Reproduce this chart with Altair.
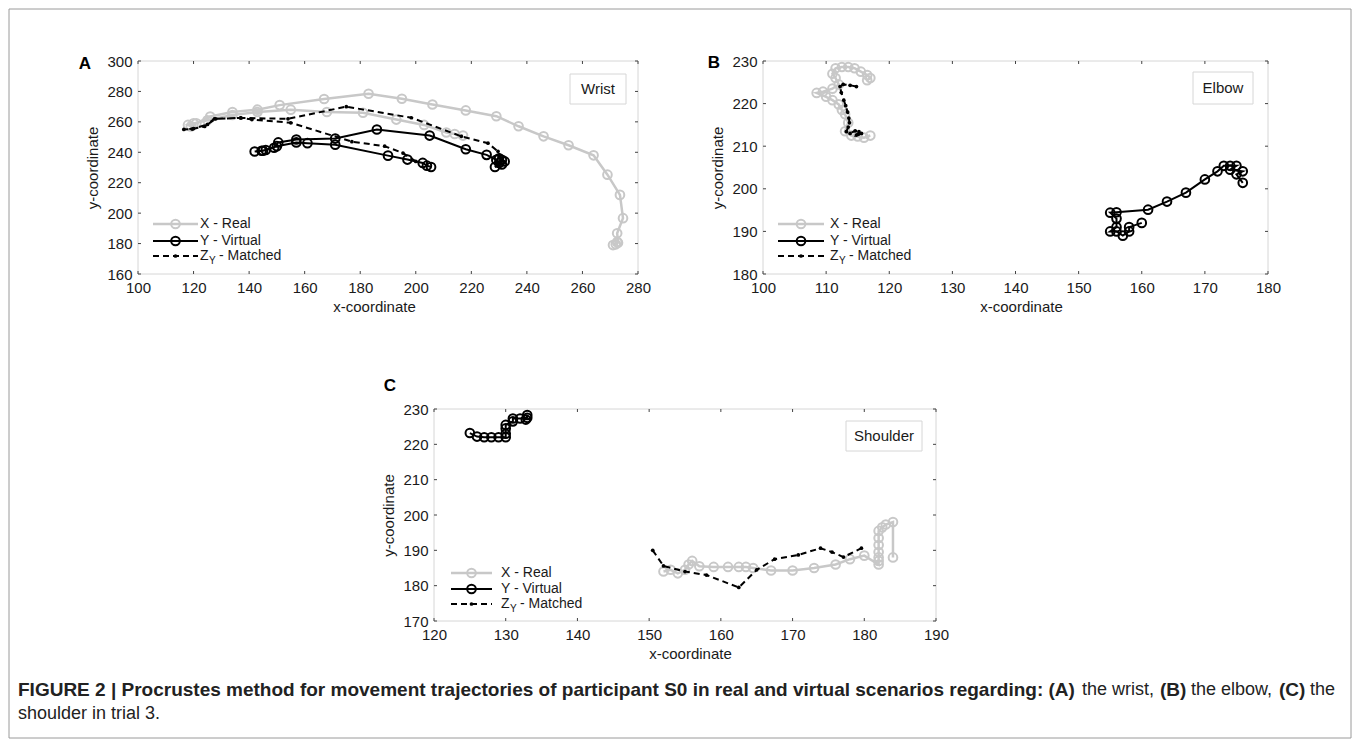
import altair as alt
import pandas as pd

# ---------------- data ----------------
# Panel A - wrist
A_real_x = [217, 214, 211, 203, 193, 181, 168, 155, 143, 134, 125, 120, 118,
            119, 121, 126, 134, 143, 151, 167, 183, 195, 206, 218, 229, 237, 246, 255, 264, 269, 273.5, 274.6, 272.5, 272.8, 272, 271, 272.5]
A_real_y = [251, 252, 253, 258, 261.5, 266, 266.5, 268, 266.5, 264.5, 261, 259, 258,
            257, 259, 263.5, 266.5, 268, 271, 275, 278.5, 275.2, 271.4, 267.5, 263.7, 257.1, 250.5, 244.6, 238, 225.3, 212, 196.7, 186.8, 180.6, 179.5, 179, 181]
A_virt_x = [205.5, 204, 202.5, 197, 190, 171, 161, 157, 150, 145, 142,
            144.5, 146, 149, 150.5, 157, 171, 186, 205, 218, 225.5, 229, 230, 228.5, 231, 232, 231, 230]
A_virt_y = [230.3, 231.2, 233, 235.2, 237.8, 245, 246, 246.5, 244, 241, 240.5,
            241, 241.5, 243, 246.5, 248.4, 249, 255, 251, 242, 238.3, 235, 233, 230.3, 232, 234, 235, 236]
A_match_x = [200, 195.4, 188.8, 177, 155, 141, 137, 128, 125, 120, 116.5,
             119.5, 124, 127.5, 137, 154, 175, 198.4, 216.4, 226, 229.6, 231, 230]
A_match_y = [234, 239.5, 244, 247, 259.4, 261.5, 262.6, 262, 258.3, 255.6, 255,
             255.3, 257, 262, 262.6, 262, 270, 262.7, 250.5, 246, 240.6, 236, 238]

# Panel B - elbow
B_real_x = [117, 116, 115, 114, 113, 113.5, 113, 112.5, 112, 111, 110, 108.5, 109.5, 111, 112,
            111.5, 111, 111.5, 112.5, 113.5, 114.5, 115.5, 116.5, 117, 116.5]
B_real_y = [212.5, 212, 212.3, 212.5, 213.5, 215.5, 217.5, 218.5, 219.8, 220.8, 221.6, 222.5, 222.8, 223.5, 224.5,
            226, 227, 228.3, 228.6, 228.6, 228.3, 227.5, 226.7, 226, 225.5]
B_virt_x = [160, 158, 158, 157, 156, 155, 156, 156, 155, 156, 161, 164, 167, 170, 172, 173, 174, 175, 174, 176, 175, 176]
B_virt_y = [192, 191, 190, 189, 190, 190, 191, 193, 194.4, 194.5, 195.1, 197, 199.1, 202.2, 204.1, 205.4, 205.4, 205.4, 204.5, 204.1, 203.4, 201.4]
B_match_x = [114.8, 113.8, 112.7, 112.2, 112.4, 112.8, 113.1, 113.4, 113.6, 113.7, 113.5, 113.2, 113.8, 114.6, 115.2, 114.8, 115.6, 115.1]
B_match_y = [224, 224.3, 224.5, 224, 222.6, 220.8, 219.5, 218, 216.6, 215.5, 214.5, 213.4, 213, 213.6, 213.4, 212.6, 213, 212.8]

# Panel C - shoulder
C_real_x = [152, 153, 154, 155, 155.5, 156, 157, 159, 161, 162.5, 163.5, 164.5, 167, 170, 173, 176, 178, 180,
            182, 182, 182, 182, 182, 182, 182, 182.5, 183, 184, 184]
C_real_y = [184, 184.5, 183.5, 184.5, 186, 187, 185.5, 185.3, 185.3, 185.3, 185.3, 185, 184.3, 184.3, 185, 186, 187.5, 188.5,
            186, 187, 188, 189.5, 191.5, 193.5, 195.5, 196.5, 197.3, 198, 188]
C_virt_x = [125, 126, 127, 128, 129, 130, 130, 130, 130, 131, 131, 132, 133, 133, 132.8]
C_virt_y = [223.2, 222.2, 222, 222, 222, 222, 223, 224.5, 225.5, 226.5, 227.3, 227.3, 227.5, 228.3, 227]
C_match_x = [150.5, 152, 155, 158, 162.5, 165, 167.5, 170.8, 173.9, 175.5, 177.1, 179.6]
C_match_y = [190, 185.6, 184, 183, 179.5, 184.5, 187.5, 188.7, 190.6, 189.5, 188.1, 190.6]

A_xticks = [100, 120, 140, 160, 180, 200, 220, 240, 260, 280]
A_yticks = [160, 180, 200, 220, 240, 260, 280, 300]
B_xticks = [100, 110, 120, 130, 140, 150, 160, 170, 180]
B_yticks = [180, 190, 200, 210, 220, 230]
C_xticks = [120, 130, 140, 150, 160, 170, 180, 190]
C_yticks = [170, 180, 190, 200, 210, 220, 230]

LEGEND_LABELS = ["X - Real", "Y - Virtual", "Z", "Y", "- Matched"]
CAPTION = [
    ("FIGURE 2 | Procrustes method for movement trajectories of participant S0 in real and virtual scenarios regarding: (A)", "bold"),
    ("the wrist,", "normal"),
    ("(B)", "bold"),
    ("the elbow,", "normal"),
    ("(C)", "bold"),
    ("the", "normal"),
]
CAPTION_2 = "shoulder in trial 3."

# ---------------- style ----------------
FONT = "Liberation Sans"
INK = "#1a1a1a"
GRAY = "#c8c8c8"
FRAME = "#d6d6d6"
TICK = "#444444"
dummy = pd.DataFrame({"d": [0]})


def sdf(xs, ys):
    return pd.DataFrame({"x": xs, "y": ys, "i": list(range(len(xs)))})


def panel(real, virt, match, xdom, ydom, xt, yt, w, h, name, box, letter, letter_xy, leg, title_x, x0=0):
    """x0: left edge of the plot area inside this cell (negative = drawn left of the cell)."""
    xs = alt.Scale(domain=xdom, nice=False, zero=False, range=[x0, x0 + w])
    ys = alt.Scale(domain=ydom, nice=False, zero=False)
    common = dict(grid=False, domain=False, ticks=False, labelPadding=6, labelFontSize=15,
                  titleFontSize=15, labelFont=FONT, titleFont=FONT, labelColor=INK,
                  titleColor=INK, titleFontWeight="normal", labelFlush=False)
    xax = alt.Axis(values=xt, title="x-coordinate", titlePadding=4, titleX=x0 + title_x, **common)
    yax = alt.Axis(values=yt, title="y-coordinate", titlePadding=6, offset=-x0, **common)
    X = alt.X("x:Q", scale=xs, axis=xax)
    Y = alt.Y("y:Q", scale=ys, axis=yax)

    b = alt.Chart(dummy)
    layers = []
    # plot frame
    layers.append(b.mark_rect(fill="white", stroke=FRAME, strokeWidth=1).encode(
        x=alt.value(x0), x2=alt.value(x0 + w), y=alt.value(0), y2=alt.value(h)))
    # inward ticks on all four sides
    tx = pd.DataFrame({"x": xt})
    ty = pd.DataFrame({"y": yt})
    layers.append(alt.Chart(tx).mark_rule(color=TICK).encode(x=X, y=alt.value(h), y2=alt.value(h - 3)))
    layers.append(alt.Chart(tx).mark_rule(color=TICK).encode(x=X, y=alt.value(0), y2=alt.value(3)))
    layers.append(alt.Chart(ty).mark_rule(color=TICK).encode(y=Y, x=alt.value(x0), x2=alt.value(x0 + 3)))
    layers.append(alt.Chart(ty).mark_rule(color=TICK).encode(y=Y, x=alt.value(x0 + w), x2=alt.value(x0 + w - 3)))

    rd, vd, md = sdf(*real), sdf(*virt), sdf(*match)
    layers.append(alt.Chart(rd).mark_line(color=GRAY, strokeWidth=2.5).encode(x=X, y=Y, order="i:Q"))
    layers.append(alt.Chart(rd).mark_point(shape="circle", filled=False, color=GRAY, size=75, strokeWidth=2, opacity=1).encode(x=X, y=Y))
    layers.append(alt.Chart(vd).mark_line(color="black", strokeWidth=2).encode(x=X, y=Y, order="i:Q"))
    layers.append(alt.Chart(vd).mark_point(shape="circle", filled=False, color="black", size=75, strokeWidth=2, opacity=1).encode(x=X, y=Y))
    layers.append(alt.Chart(md).mark_line(color="black", strokeWidth=2, strokeDash=[6, 4]).encode(x=X, y=Y, order="i:Q"))
    layers.append(alt.Chart(md).mark_circle(color="black", size=14, opacity=1).encode(x=X, y=Y))

    # legend (inside plot, lower left)
    lx0, lx1, ltx, rows = leg
    lx0, lx1, ltx = lx0 + x0, lx1 + x0, ltx + x0
    xc = (lx0 + lx1) / 2
    r0, r1, r2 = rows
    layers.append(b.mark_rule(color=GRAY, strokeWidth=2.5).encode(x=alt.value(lx0), x2=alt.value(lx1), y=alt.value(r0)))
    layers.append(b.mark_point(shape="circle", filled=False, color=GRAY, size=75, strokeWidth=2, opacity=1).encode(x=alt.value(xc), y=alt.value(r0)))
    layers.append(b.mark_rule(color="black", strokeWidth=2).encode(x=alt.value(lx0), x2=alt.value(lx1), y=alt.value(r1)))
    layers.append(b.mark_point(shape="circle", filled=False, color="black", size=75, strokeWidth=2, opacity=1).encode(x=alt.value(xc), y=alt.value(r1)))
    layers.append(b.mark_rule(color="black", strokeWidth=2, strokeDash=[6, 4]).encode(x=alt.value(lx0), x2=alt.value(lx1), y=alt.value(r2)))
    layers.append(b.mark_circle(color="black", size=14, opacity=1).encode(x=alt.value(xc), y=alt.value(r2)))
    tkw = dict(align="left", baseline="middle", font=FONT, fontSize=14, color=INK)
    layers.append(b.mark_text(**tkw).encode(x=alt.value(ltx), y=alt.value(r0), text=alt.value(LEGEND_LABELS[0])))
    layers.append(b.mark_text(**tkw).encode(x=alt.value(ltx), y=alt.value(r1), text=alt.value(LEGEND_LABELS[1])))
    layers.append(b.mark_text(**tkw).encode(x=alt.value(ltx), y=alt.value(r2), text=alt.value(LEGEND_LABELS[2])))
    layers.append(b.mark_text(align="left", baseline="middle", font=FONT, fontSize=10, color=INK).encode(
        x=alt.value(ltx + 9), y=alt.value(r2 + 5), text=alt.value(LEGEND_LABELS[3])))
    layers.append(b.mark_text(**tkw).encode(x=alt.value(ltx + 19), y=alt.value(r2), text=alt.value(LEGEND_LABELS[4])))

    # name box (top right)
    bx0, bx1, by0, by1 = box
    bx0, bx1 = bx0 + x0, bx1 + x0
    layers.append(b.mark_rect(fill="white", stroke=FRAME, strokeWidth=1).encode(
        x=alt.value(bx0), x2=alt.value(bx1), y=alt.value(by0), y2=alt.value(by1)))
    layers.append(b.mark_text(align="center", baseline="middle", font=FONT, fontSize=15, color=INK).encode(
        x=alt.value((bx0 + bx1) / 2), y=alt.value((by0 + by1) / 2), text=alt.value(name)))

    # panel letter
    layers.append(b.mark_text(align="center", baseline="middle", font=FONT, fontSize=17, fontWeight="bold", color="black").encode(
        x=alt.value(letter_xy[0] + x0), y=alt.value(letter_xy[1]), text=alt.value(letter)))

    cell_w = x0 + w if x0 < 0 else w
    return alt.layer(*layers).properties(width=cell_w, height=h, view=alt.ViewBackground(stroke="transparent"))


LEG_ROWS = (163, 180, 195)
pA = panel((A_real_x, A_real_y), (A_virt_x, A_virt_y), (A_match_x, A_match_y), [100, 280], [160, 300],
           A_xticks, A_yticks, 500, 213, "Wrist", (432, 488, 13, 43), "A", (-53, 3), (15, 60, 62, LEG_ROWS), 236)
pB = panel((B_real_x, B_real_y), (B_virt_x, B_virt_y), (B_match_x, B_match_y), [100, 180], [180, 230],
           B_xticks, B_yticks, 505, 213, "Elbow", (430, 490, 11, 43), "B", (-49, 2), (15, 61, 67, LEG_ROWS), 258)
# panel C sits in the second grid column (cell origin 625 px right of panel A) but is drawn 329 px further left
pC = panel((C_real_x, C_real_y), (C_virt_x, C_virt_y), (C_match_x, C_match_y), [120, 190], [170, 230],
           C_xticks, C_yticks, 502, 212, "Shoulder", (412, 488, 12, 42), "C", (-44, -23), (17, 58, 67, (164, 180, 195)),
           256, x0=-329)

# first cell of row 2: carries the caption and the figure border (drawn around the whole figure)
cb = alt.Chart(dummy)
cap_layers = [cb.mark_rect(fill="white", fillOpacity=0, stroke="#9a9a9a", strokeWidth=1).encode(
    x=alt.value(-129), x2=alt.value(1213), y=alt.value(-400), y2=alt.value(329))]
cap_x = [-120, 944, 1022, 1053, 1141, 1172]
for (txt, wt), cx in zip(CAPTION, cap_x):
    cap_layers.append(cb.mark_text(align="left", baseline="middle", font=FONT, fontSize=19 if wt == "bold" else 18,
                                   fontWeight=wt, color="#222222").encode(
        x=alt.value(cx), y=alt.value(281), text=alt.value(txt)))
cap_layers.append(cb.mark_text(align="left", baseline="middle", font=FONT, fontSize=18, color="#222222").encode(
    x=alt.value(-120), y=alt.value(305), text=alt.value(CAPTION_2)))
capcell = alt.layer(*cap_layers).properties(width=171, height=212, view=alt.ViewBackground(stroke="transparent"))

chart = alt.concat(pA, pB, capcell, pC, columns=2, spacing={"row": 135, "column": 125},
                   bounds="flush").properties(
    padding={"left": 0, "top": 0, "right": 0, "bottom": 0}, background="white")

chart.save("out.html", embed_options={"renderer": "svg", "actions": False})
